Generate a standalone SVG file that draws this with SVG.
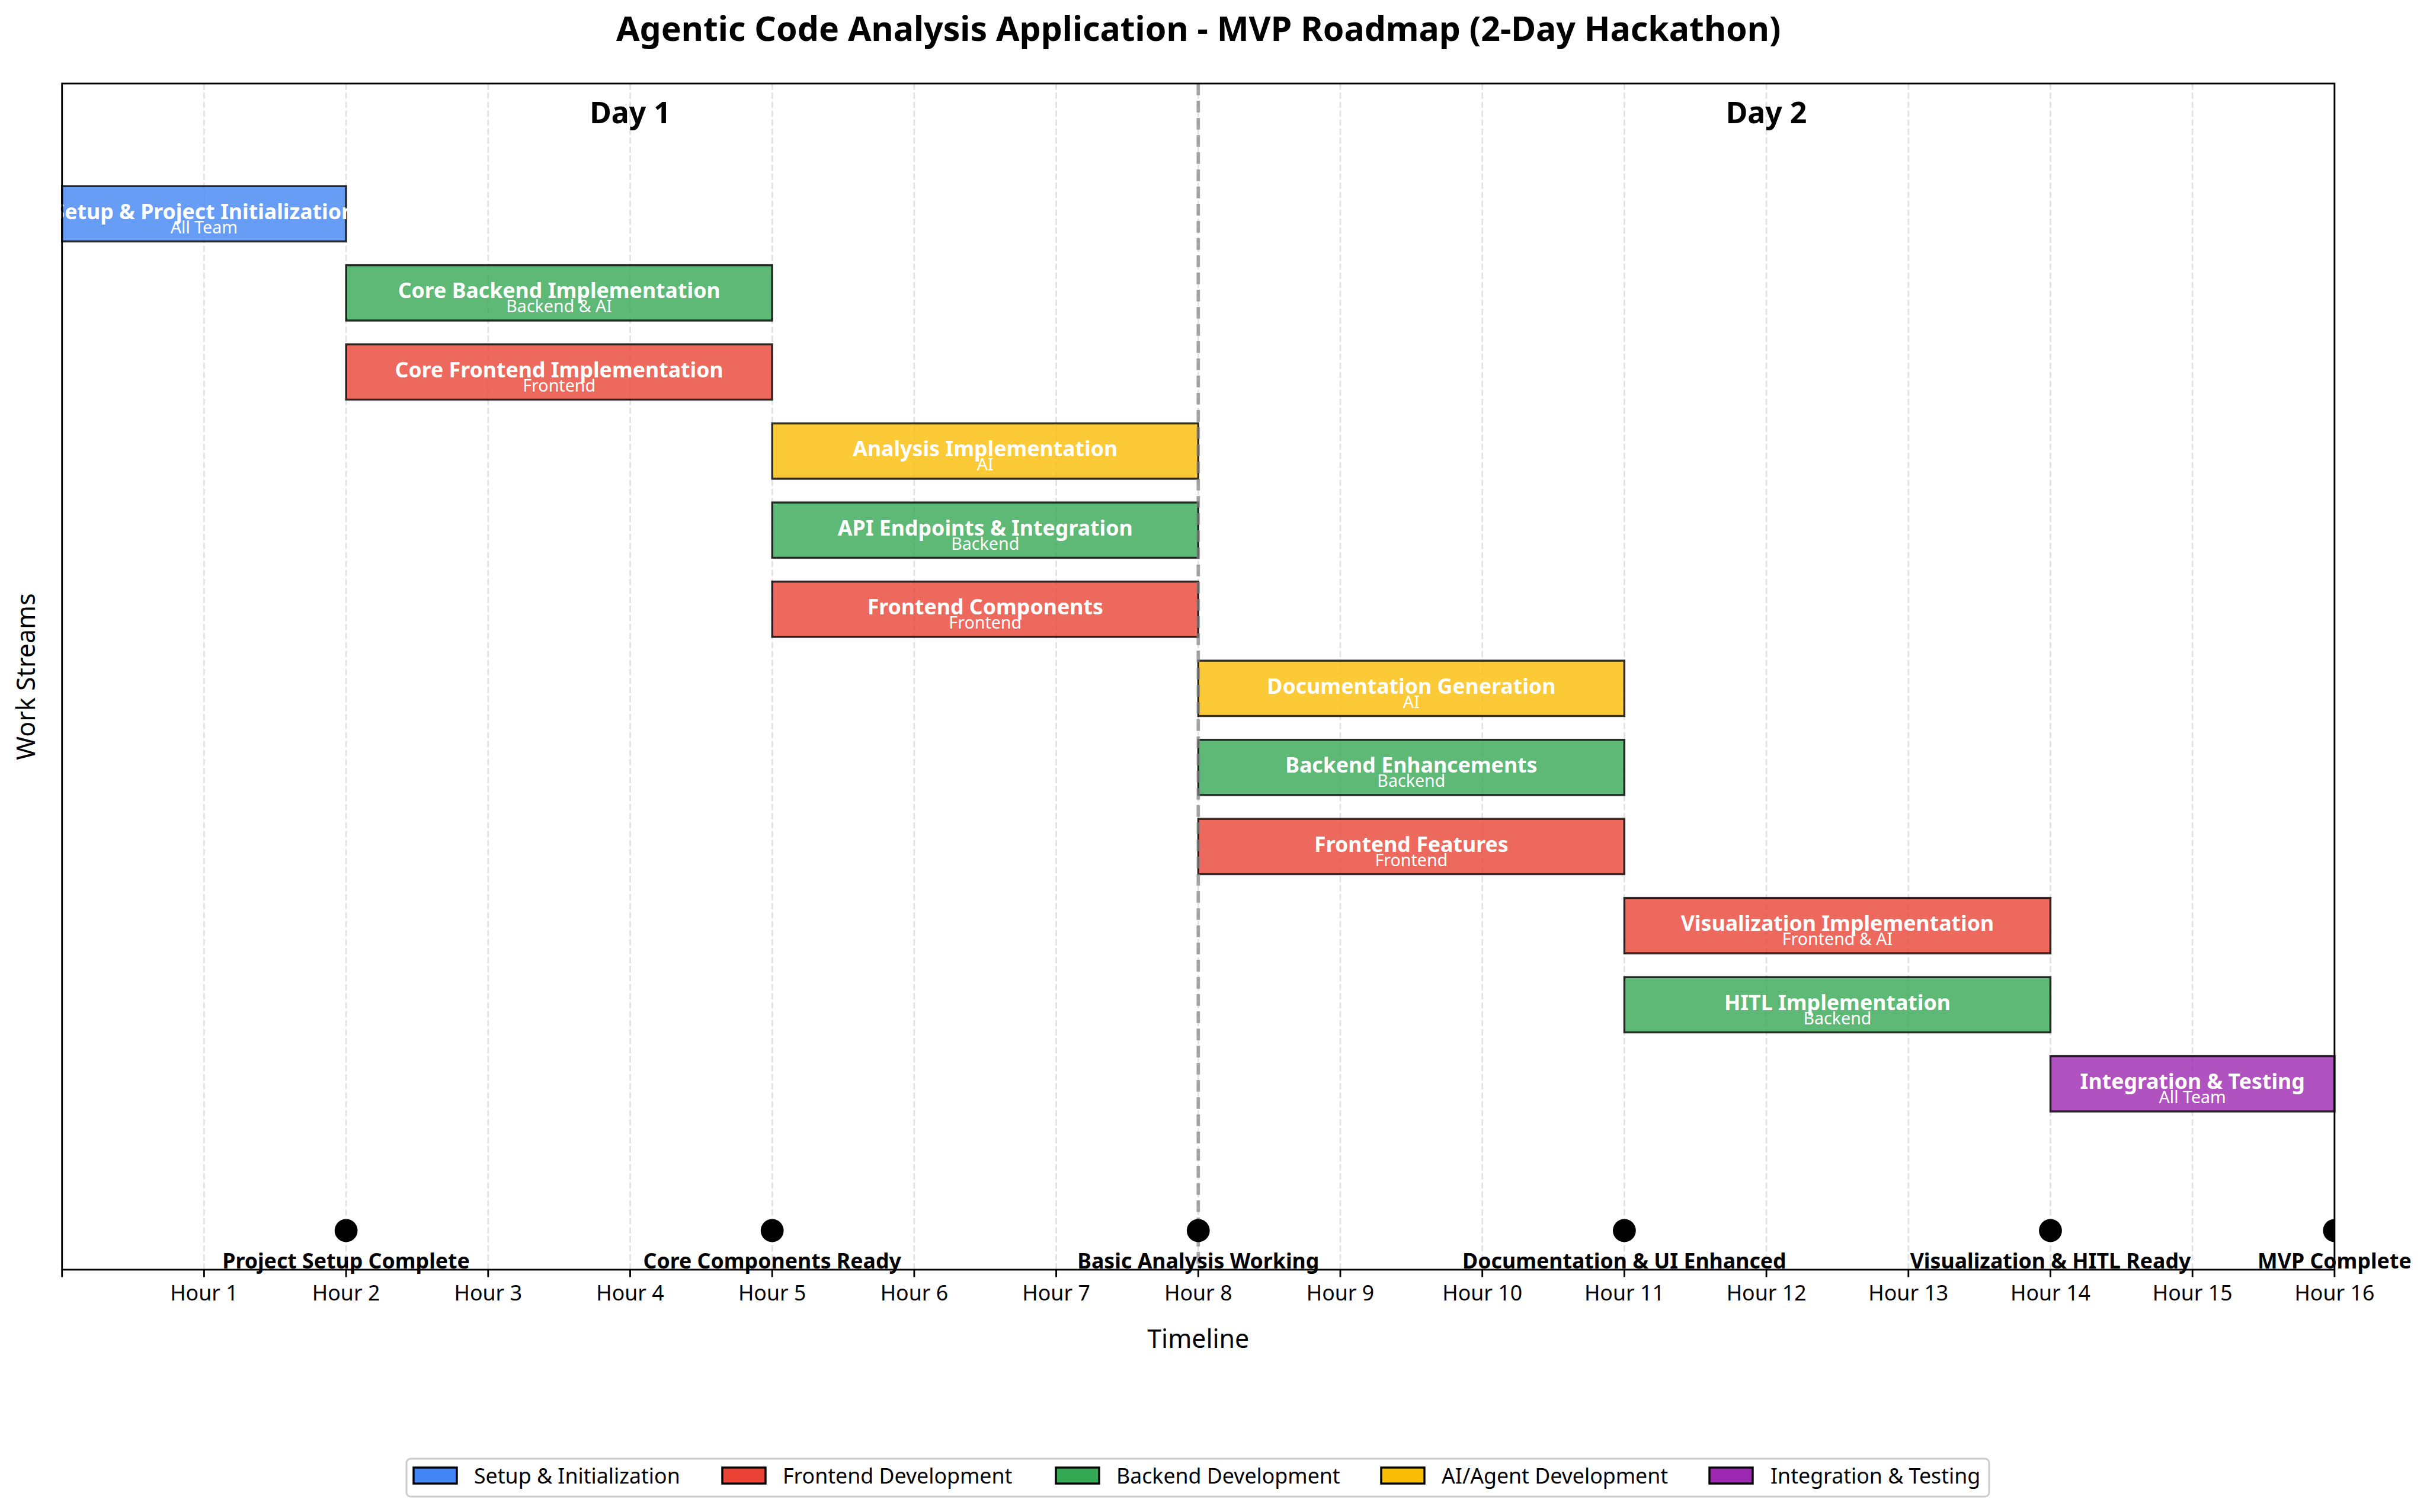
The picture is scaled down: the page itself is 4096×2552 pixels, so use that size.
<svg xmlns="http://www.w3.org/2000/svg" width="4096" height="2552" viewBox="0 0 4096 2552">
<defs>
<style>
text{font-family:"Noto Sans","DejaVu Sans",sans-serif;}
.title{font-size:57.2px;font-weight:bold;text-anchor:middle;fill:#000}
.day{font-size:50px;font-weight:bold;text-anchor:middle;fill:#000}
.main{font-size:35.7px;font-weight:bold;text-anchor:middle;fill:#fff}
.sub{font-size:28.6px;text-anchor:middle;fill:#fff}
.tick{font-size:35.7px;text-anchor:middle;fill:#000}
.ms{font-size:35.7px;font-weight:bold;text-anchor:middle;fill:#000}
.axl{font-size:42.9px;text-anchor:middle;fill:#000}
.leg{font-size:35.7px;fill:#000}
.grid{stroke:#e3e3e3;stroke-width:2.86;stroke-dasharray:10.6 4.6;fill:none}
.bar{stroke:#000;stroke-opacity:0.8;stroke-width:3.4;fill-opacity:0.8}
.blue{fill:#4285F4}.red{fill:#EA4335}.green{fill:#34A853}.yellow{fill:#FBBC05}.purple{fill:#9C27B0}
.lp{stroke:#000;stroke-width:3.4}
.tk{stroke:#000;stroke-width:2.86}
</style>
<clipPath id="plot"><rect x="104.7" y="141" width="3835.2" height="2002"/></clipPath>
</defs>
<rect width="4096" height="2552" fill="#fff"/>
<text class="title" x="2022.7" y="68.6">Agentic Code Analysis Application - MVP Roadmap (2-Day Hackathon)</text>

<g id="grid">
<line class="grid" x1="344.4" y1="141" x2="344.4" y2="2143"/>
<line class="grid" x1="584.1" y1="141" x2="584.1" y2="2143"/>
<line class="grid" x1="823.8" y1="141" x2="823.8" y2="2143"/>
<line class="grid" x1="1063.5" y1="141" x2="1063.5" y2="2143"/>
<line class="grid" x1="1303.2" y1="141" x2="1303.2" y2="2143"/>
<line class="grid" x1="1542.9" y1="141" x2="1542.9" y2="2143"/>
<line class="grid" x1="1782.6" y1="141" x2="1782.6" y2="2143"/>
<line class="grid" x1="2022.3" y1="141" x2="2022.3" y2="2143"/>
<line class="grid" x1="2262.0" y1="141" x2="2262.0" y2="2143"/>
<line class="grid" x1="2501.7" y1="141" x2="2501.7" y2="2143"/>
<line class="grid" x1="2741.4" y1="141" x2="2741.4" y2="2143"/>
<line class="grid" x1="2981.1" y1="141" x2="2981.1" y2="2143"/>
<line class="grid" x1="3220.8" y1="141" x2="3220.8" y2="2143"/>
<line class="grid" x1="3460.5" y1="141" x2="3460.5" y2="2143"/>
<line class="grid" x1="3700.2" y1="141" x2="3700.2" y2="2143"/>
</g>

<text class="day" x="1063.5" y="207.7">Day 1</text>
<text class="day" x="2981.1" y="207.7">Day 2</text>

<g id="task-setup"><rect class="bar blue" x="104.7" y="314.1" width="479.4" height="93.4"/>
<text class="main" x="344.4" y="369.8">Setup &amp; Project Initialization</text><text class="sub" x="344.4" y="393.8">All Team</text></g>
<g id="task-core-backend"><rect class="bar green" x="584.1" y="447.6" width="719.1" height="93.4"/>
<text class="main" x="943.65" y="503.3">Core Backend Implementation</text><text class="sub" x="943.65" y="527.3">Backend &amp; AI</text></g>
<g id="task-core-frontend"><rect class="bar red" x="584.1" y="581.1" width="719.1" height="93.4"/>
<text class="main" x="943.65" y="636.8">Core Frontend Implementation</text><text class="sub" x="943.65" y="660.8">Frontend</text></g>
<g id="task-analysis"><rect class="bar yellow" x="1303.2" y="714.6" width="719.1" height="93.4"/>
<text class="main" x="1662.75" y="770.3">Analysis Implementation</text><text class="sub" x="1662.75" y="794.3">AI</text></g>
<g id="task-api"><rect class="bar green" x="1303.2" y="848.1" width="719.1" height="93.4"/>
<text class="main" x="1662.75" y="903.8">API Endpoints &amp; Integration</text><text class="sub" x="1662.75" y="927.8">Backend</text></g>
<g id="task-frontend-components"><rect class="bar red" x="1303.2" y="981.6" width="719.1" height="93.4"/>
<text class="main" x="1662.75" y="1037.3">Frontend Components</text><text class="sub" x="1662.75" y="1061.3">Frontend</text></g>
<g id="task-docs"><rect class="bar yellow" x="2022.3" y="1115.1" width="719.1" height="93.4"/>
<text class="main" x="2381.85" y="1170.8">Documentation Generation</text><text class="sub" x="2381.85" y="1194.8">AI</text></g>
<g id="task-backend-enh"><rect class="bar green" x="2022.3" y="1248.6" width="719.1" height="93.4"/>
<text class="main" x="2381.85" y="1304.3">Backend Enhancements</text><text class="sub" x="2381.85" y="1328.3">Backend</text></g>
<g id="task-frontend-features"><rect class="bar red" x="2022.3" y="1382.1" width="719.1" height="93.4"/>
<text class="main" x="2381.85" y="1437.8">Frontend Features</text><text class="sub" x="2381.85" y="1461.8">Frontend</text></g>
<g id="task-visualization"><rect class="bar red" x="2741.4" y="1515.6" width="719.1" height="93.4"/>
<text class="main" x="3100.95" y="1571.3">Visualization Implementation</text><text class="sub" x="3100.95" y="1595.3">Frontend &amp; AI</text></g>
<g id="task-hitl"><rect class="bar green" x="2741.4" y="1649.1" width="719.1" height="93.4"/>
<text class="main" x="3100.95" y="1704.8">HITL Implementation</text><text class="sub" x="3100.95" y="1728.8">Backend</text></g>
<g id="task-integration"><rect class="bar purple" x="3460.5" y="1782.6" width="479.4" height="93.4"/>
<text class="main" x="3700.2" y="1838.3">Integration &amp; Testing</text><text class="sub" x="3700.2" y="1862.3">All Team</text></g>

<g id="connectors">
<line x1="2022.3" y1="141" x2="2022.3" y2="2143" stroke="#808080" stroke-opacity="0.7" stroke-width="5.7" stroke-dasharray="19.8 9.2"/>
</g>

<g id="milestones" clip-path="url(#plot)">
<circle cx="584.1" cy="2077" r="19.4"/>
<circle cx="1303.2" cy="2077" r="19.4"/>
<circle cx="2022.3" cy="2077" r="19.4"/>
<circle cx="2741.4" cy="2077" r="19.4"/>
<circle cx="3460.5" cy="2077" r="19.4"/>
<circle cx="3939.9" cy="2077" r="19.4"/>
</g>
<g id="milestone-labels">
<text class="ms" x="584.1" y="2141">Project Setup Complete</text>
<text class="ms" x="1303.2" y="2141">Core Components Ready</text>
<text class="ms" x="2022.3" y="2141">Basic Analysis Working</text>
<text class="ms" x="2741.4" y="2141">Documentation &amp; UI Enhanced</text>
<text class="ms" x="3460.5" y="2141">Visualization &amp; HITL Ready</text>
<text class="ms" x="3939.9" y="2141">MVP Complete</text>
</g>

<g id="axes">
<rect x="104.7" y="141" width="3835.2" height="2002" fill="none" stroke="#000" stroke-width="2.86"/>
<path class="tk" d="M104.7 2143v12.5M344.4 2143v12.5M584.1 2143v12.5M823.8 2143v12.5M1063.5 2143v12.5M1303.2 2143v12.5M1542.9 2143v12.5M1782.6 2143v12.5M2022.3 2143v12.5M2262.0 2143v12.5M2501.7 2143v12.5M2741.4 2143v12.5M2981.1 2143v12.5M3220.8 2143v12.5M3460.5 2143v12.5M3700.2 2143v12.5M3939.9 2143v12.5"/>
<text class="tick" x="344.4" y="2195">Hour 1</text>
<text class="tick" x="584.1" y="2195">Hour 2</text>
<text class="tick" x="823.8" y="2195">Hour 3</text>
<text class="tick" x="1063.5" y="2195">Hour 4</text>
<text class="tick" x="1303.2" y="2195">Hour 5</text>
<text class="tick" x="1542.9" y="2195">Hour 6</text>
<text class="tick" x="1782.6" y="2195">Hour 7</text>
<text class="tick" x="2022.3" y="2195">Hour 8</text>
<text class="tick" x="2262.0" y="2195">Hour 9</text>
<text class="tick" x="2501.7" y="2195">Hour 10</text>
<text class="tick" x="2741.4" y="2195">Hour 11</text>
<text class="tick" x="2981.1" y="2195">Hour 12</text>
<text class="tick" x="3220.8" y="2195">Hour 13</text>
<text class="tick" x="3460.5" y="2195">Hour 14</text>
<text class="tick" x="3700.2" y="2195">Hour 15</text>
<text class="tick" x="3939.9" y="2195">Hour 16</text>
<text class="axl" x="2022.3" y="2275">Timeline</text>
<text class="axl" transform="translate(58.5 1142) rotate(-90)">Work Streams</text>
</g>

<g id="legend">
<rect x="686" y="2462" width="2671" height="64" rx="7" fill="#fff" stroke="#cccccc" stroke-width="3"/>
<rect class="lp blue" x="698" y="2477" width="73" height="27"/>
<text class="leg" x="800" y="2504">Setup &amp; Initialization</text>
<rect class="lp red" x="1219" y="2477" width="73" height="27"/>
<text class="leg" x="1321" y="2504">Frontend Development</text>
<rect class="lp green" x="1782" y="2477" width="73" height="27"/>
<text class="leg" x="1884" y="2504">Backend Development</text>
<rect class="lp yellow" x="2331" y="2477" width="73" height="27"/>
<text class="leg" x="2433" y="2504">AI/Agent Development</text>
<rect class="lp purple" x="2885" y="2477" width="73" height="27"/>
<text class="leg" x="2988" y="2504">Integration &amp; Testing</text>
</g>
</svg>
